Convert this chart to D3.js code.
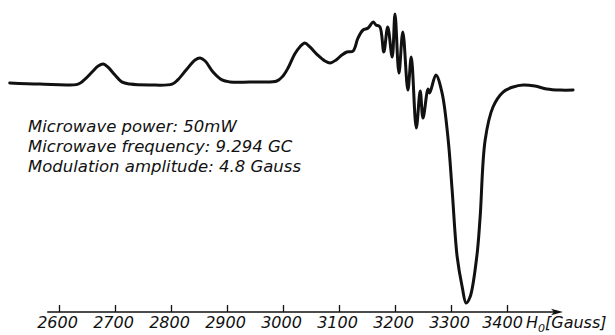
<!DOCTYPE html>
<html>
<head>
<meta charset="utf-8">
<script src="https://cdn.jsdelivr.net/npm/d3@7"></script>
<style>
  html, body { margin: 0; padding: 0; background: #fff; }
  svg { display: block; }
  text { font-family: "DejaVu Sans", sans-serif; font-style: italic; fill: #111; }
</style>
</head>
<body>
<div id="chart"></div>
<script>
// field positions (Gauss) and derivative signal (arbitrary units)
const fieldGauss = [
  2512, 2566, 2634, 2645, 2659, 2670, 2679, 2687, 2700, 2712, 2727, 2762,
  2802, 2812, 2827, 2843, 2852, 2861, 2875, 2891, 2905, 2950, 2989, 3000,
  3009, 3021, 3030, 3039, 3048, 3062, 3075, 3084, 3095, 3105, 3114, 3125,
  3134, 3143, 3152, 3161, 3166, 3173, 3180, 3187, 3195, 3200, 3207, 3214,
  3223, 3229, 3238, 3245, 3250, 3259, 3262, 3273, 3284, 3295, 3302, 3311,
  3320, 3327, 3334, 3346, 3352, 3361, 3375, 3393, 3411, 3429, 3450, 3471,
  3495, 3518
];
const signal = [
  0, -0.5, -0.5, 1.4, 5, 7.7, 8.6, 7.3, 3.6, 0.5, -0.5, -0.9,
  -0.5, 1.4, 5.9, 10.5, 11.4, 10, 5, 1.4, 0.5, 0.5, 0.9, 3.2,
  6.8, 13.2, 16.4, 18.2, 16.4, 12.7, 10, 9.1, 10.5, 12.7, 14.1, 14.5,
  20.5, 24.1, 25, 27.7, 26.4, 25.5, 14.1, 25.5, 11.8, 31.4, 4.5, 23.2,
  -3.2, 11.8, -20.5, -3.6, -15.9, -2.7, -4.5, 3.6, -4.5, -25.9, -48.6, -79,
  -92.7, -100, -97.3, -79, -61, -25.9, -10.9, -4.1, -1.8, -0.9, -1.4, -2.7,
  -3.2, -3.2
];
const tickValues = [2600, 2700, 2800, 2900, 3000, 3100, 3200, 3300, 3400];
const axisEnd = [2579, 3500];
const notes = [
  "Microwave power: 50mW",
  "Microwave frequency: 9.294 GC",
  "Modulation amplitude: 4.8 Gauss"
];

const width = 615, height = 335;
const axisY = 312;

const svg = d3.select('#chart').append('svg')
  .attr('width', width)
  .attr('height', height);

const x = d3.scaleLinear().domain([2600, 3400]).range([59, 507]);
const y = d3.scaleLinear().domain([-100, 0]).range([303, 83]);

// axis: ticks pointing up, labels below
const axis = svg.append('g')
  .attr('transform', `translate(0,${axisY})`)
  .call(d3.axisBottom(x)
    .tickValues(tickValues)
    .tickSizeInner(-7)
    .tickSizeOuter(0)
    .tickPadding(5)
    .tickFormat(d3.format('d')));

axis.select('.domain').remove();
axis.selectAll('.tick line').attr('stroke', '#111').attr('stroke-width', 1.3);
axis.selectAll('.tick text')
  .attr('font-family', '"DejaVu Sans", sans-serif')
  .attr('font-style', 'italic')
  .attr('font-size', 16)
  .attr('fill', '#111')
  .attr('dx', (d, i) => i === tickValues.length - 1 ? '-5' : '-2');

svg.append('line')
  .attr('x1', x(axisEnd[0])).attr('x2', x(axisEnd[1]) - 4)
  .attr('y1', axisY).attr('y2', axisY)
  .attr('stroke', '#111').attr('stroke-width', 1.6);

const tip = x(axisEnd[1]);
svg.append('path')
  .attr('d', `M${tip},${axisY} L${tip - 12},${axisY - 3.2} L${tip - 9},${axisY} L${tip - 12},${axisY + 3.2} Z`)
  .attr('fill', '#111');

const unit = svg.append('text')
  .attr('x', 526).attr('y', 328)
  .attr('font-size', 16);
unit.append('tspan').text('H');
unit.append('tspan').attr('font-size', 11).attr('dy', 4).text('0');
unit.append('tspan').attr('dy', -4).text('[Gauss]');

// settings text
svg.append('g').selectAll('text')
  .data(notes)
  .join('text')
  .attr('x', 28)
  .attr('y', (d, i) => 132 + i * 20)
  .attr('font-size', 16.5)
  .text(d => d);

// ESR trace
const line = d3.line()
  .x(i => x(fieldGauss[i]))
  .y(i => y(signal[i]))
  .curve(d3.curveCatmullRom.alpha(0.5));

svg.append('path')
  .attr('d', line(d3.range(fieldGauss.length)))
  .attr('fill', 'none')
  .attr('stroke', '#111')
  .attr('stroke-width', 3)
  .attr('stroke-linejoin', 'round')
  .attr('stroke-linecap', 'round');
</script>
</body>
</html>
